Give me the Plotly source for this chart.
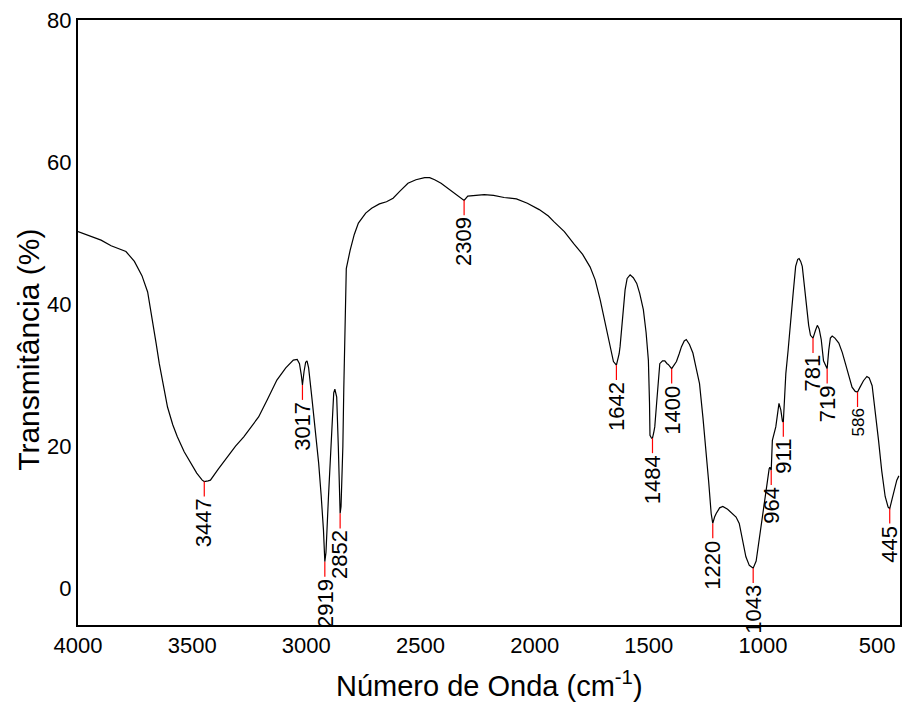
import plotly.graph_objects as go

# Spectrum (wavenumber in cm-1, transmittance in %)
wavenumber = [
    4000, 3950, 3899, 3855, 3820, 3790, 3753, 3720, 3695, 3673, 3658, 3644, 3625, 3608,
    3585, 3565, 3535, 3507, 3480, 3456, 3447, 3430, 3420, 3385, 3347, 3310, 3274, 3240,
    3209, 3170, 3129, 3090, 3057, 3040, 3030, 3022, 3017, 3010, 3003, 2997, 2990, 2976,
    2960, 2946, 2935, 2925, 2919, 2914, 2903, 2889, 2880, 2875, 2867, 2860, 2856, 2852,
    2848, 2840, 2836, 2832, 2830, 2825, 2808, 2790, 2772, 2740, 2714, 2680, 2649, 2620,
    2590, 2555, 2520, 2482, 2460, 2438, 2410, 2380, 2355, 2330, 2309, 2293, 2260, 2221,
    2180, 2134, 2080, 2032, 1980, 1940, 1916, 1870, 1829, 1790, 1757, 1735, 1713, 1695,
    1684, 1670, 1655, 1642, 1630, 1626, 1615, 1604, 1595, 1582, 1568, 1553, 1540, 1524,
    1512, 1502, 1497, 1495, 1488, 1484, 1478, 1474, 1466, 1459, 1452, 1440, 1430, 1420,
    1415, 1400, 1390, 1379, 1367, 1357, 1345, 1336, 1322, 1307, 1293, 1278, 1263, 1249,
    1238, 1227, 1220, 1212, 1205, 1190, 1176, 1155, 1133, 1118, 1104, 1090, 1075, 1060,
    1043, 1030, 1016, 1005, 995, 988, 980, 973, 970, 964, 959, 944, 935, 930,
    922, 915, 911, 900, 890, 878, 868, 857, 848, 842, 835, 828, 820, 813,
    800, 792, 781, 770, 762, 754, 745, 735, 725, 719, 712, 705, 697, 685,
    668, 653, 639, 625, 610, 596, 586, 575, 560, 545, 535, 522, 510, 494,
    480, 465, 452, 445, 435, 425, 414, 405,
]
transmittance = [
    50.2, 49.6, 49.0, 48.2, 47.8, 47.4, 46.0, 44.0, 41.7, 37.7, 34.5, 31.6, 28.3, 25.5,
    23.0, 21.3, 19.2, 17.6, 16.2, 15.2, 15.0, 15.1, 15.2, 16.8, 18.5, 20.0, 21.3, 22.7,
    24.1, 26.6, 29.3, 31.0, 32.1, 32.2, 31.6, 30.0, 28.6, 30.5, 31.8, 32.0, 31.0, 26.9,
    22.0, 17.6, 13.0, 8.2, 3.7, 5.0, 12.9, 22.3, 27.5, 28.0, 26.9, 20.0, 15.0, 10.5,
    11.5, 20.0, 28.0, 36.0, 40.0, 45.0, 47.6, 49.8, 51.4, 52.8, 53.5, 54.1, 54.4, 54.9,
    55.9, 57.0, 57.5, 57.8, 57.8, 57.5, 57.0, 56.3, 55.7, 55.1, 54.6, 55.2, 55.3, 55.4,
    55.3, 55.0, 54.8, 54.2, 53.3, 52.4, 51.6, 50.2, 48.5, 47.0, 45.2, 43.4, 40.6, 37.8,
    35.9, 33.8, 31.9, 31.4, 33.0, 34.0, 38.5, 42.0, 43.6, 44.1, 43.7, 42.9, 41.5, 39.2,
    36.0, 32.1, 26.0, 21.5, 21.1, 21.1, 22.0, 22.7, 26.0, 28.8, 31.6, 32.0, 32.0, 31.6,
    31.5, 30.9, 31.3, 31.9, 33.0, 34.0, 34.8, 35.0, 34.3, 33.1, 31.0, 28.8, 24.0, 19.4,
    15.0, 10.5, 9.1, 10.0, 10.5, 11.3, 11.5, 11.1, 10.5, 10.0, 9.1, 7.0, 4.4, 3.2,
    2.8, 3.8, 6.8, 9.5, 11.5, 13.5, 15.2, 16.8, 17.0, 16.6, 20.8, 22.7, 24.5, 26.0,
    25.1, 23.5, 23.4, 30.2, 33.5, 37.3, 41.5, 45.3, 46.3, 46.4, 46.0, 45.3, 43.0, 40.6,
    37.0, 35.6, 35.2, 36.3, 37.0, 36.5, 35.0, 32.0, 31.2, 30.9, 33.5, 35.2, 35.5, 35.2,
    34.5, 33.2, 31.6, 29.8, 28.3, 27.7, 27.6, 28.3, 29.2, 29.8, 29.6, 28.5, 25.5, 20.8,
    16.5, 12.9, 11.4, 11.2, 12.5, 13.8, 15.2, 15.8,
]

# Labelled bands: wavenumber and transmittance at the band minimum
peak_wn = [3447, 3017, 2919, 2852, 2309, 1642, 1484, 1400, 1220, 1043, 964, 911, 781, 719, 586, 445]
peak_T = [15.0, 28.6, 3.7, 10.5, 54.6, 31.4, 21.1, 30.9, 9.1, 2.8, 16.6, 23.4, 35.2, 30.9, 27.6, 11.2]

x_ticks = [4000, 3500, 3000, 2500, 2000, 1500, 1000, 500]
y_ticks = [0, 20, 40, 60, 80]

TICK_DEPTH = 2.1  # length of the red marker, in % units

FONT = "Arial, 'Liberation Sans', sans-serif"

fig = go.Figure()

fig.add_trace(go.Scatter(
    x=wavenumber, y=transmittance, mode="lines",
    line=dict(color="black", width=1.2), hoverinfo="skip", showlegend=False,
))

mx, my = [], []
for w, t in zip(peak_wn, peak_T):
    mx += [w, w, None]
    my += [t, t - TICK_DEPTH, None]
fig.add_trace(go.Scatter(
    x=mx, y=my, mode="lines", line=dict(color="red", width=1.2),
    hoverinfo="skip", showlegend=False,
))

annotations = []
for w, t in zip(peak_wn, peak_T):
    annotations.append(dict(
        x=w, y=t - TICK_DEPTH, xref="x", yref="y", text=str(w), showarrow=False,
        textangle=-90, xanchor="center", yanchor="top", yshift=-1,
        font=dict(family=FONT, size=17 if w == 586 else 22, color="black"),
        borderpad=0,
    ))

annotations.append(dict(
    x=-0.0595, y=0.455, xref="paper", yref="paper", text="Transmitância (%)",
    showarrow=False, textangle=-90, xanchor="center", yanchor="middle",
    font=dict(family=FONT, size=30, color="black"),
))
annotations.append(dict(
    x=0.5, y=-0.097, xref="paper", yref="paper",
    text="Número de Onda (cm<sup>-1</sup>)",
    showarrow=False, xanchor="center", yanchor="middle",
    font=dict(family=FONT, size=29, color="black"),
))

fig.update_layout(
    width=904, height=704,
    margin=dict(l=78, r=2, t=20, b=79),
    paper_bgcolor="white", plot_bgcolor="white",
    font=dict(family=FONT, color="black"),
    annotations=annotations,
    showlegend=False,
)
fig.update_xaxes(
    range=[4000, 400], tickvals=x_ticks, ticktext=[str(v) for v in x_ticks],
    showgrid=False, zeroline=False, showline=True, linecolor="black", linewidth=2,
    mirror=True, ticks="", ticklen=0, tickfont=dict(family=FONT, size=22, color="black"),
)
fig.update_yaxes(
    range=[-5.2, 80], tickvals=y_ticks, ticktext=[str(v) for v in y_ticks],
    showgrid=False, zeroline=False, showline=True, linecolor="black", linewidth=2,
    mirror=True, ticks="", ticklen=0, tickfont=dict(family=FONT, size=22, color="black"),
)

fig.write_html("out.html")
